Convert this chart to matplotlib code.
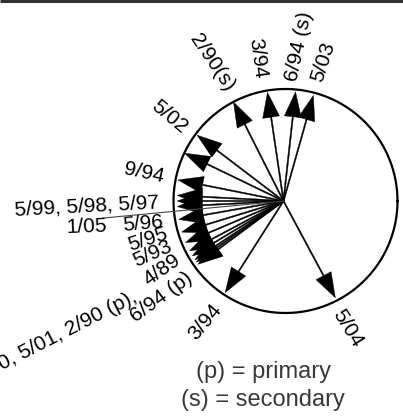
import numpy as np
import matplotlib
matplotlib.use("Agg")
import matplotlib.pyplot as plt

# ---- data: arrow directions (degrees, counter-clockwise from east) ----
arrow_dates = ["2/90(s)", "3/94", "6/94(s)", "5/03", "5/02", "?", "9/94",
               "5/99", "5/98", "5/97", "5/96", "5/95", "5/93", "4/89",
               "6/94(p)", "5/00", "5/01", "2/90(p)", "3/94b", "5/04"]
arrow_angles = [116.8, 98.4, 83.7, 74.2, 142.7, 154.2, 168.7,
                177.0, 180.0, 183.0, 190.0, 197.0, 203.0, 208.0,
                211.0, 213.5, 215.0, 216.5, 237.5, 298.2]
arrow_lengths = [0.99, 0.98, 0.98, 0.98, 0.97, 0.98, 0.96,
                 0.95, 0.95, 0.95, 0.95, 0.95, 0.95, 0.95,
                 0.95, 0.95, 0.95, 0.95, 0.97, 0.98]
thin_line_angle = 185.4
thin_line_length = 1.62

label_texts = ["2/90(s)", "3/94", "6/94 (s)", "5/03", "5/02", "9/94",
               "5/99, 5/98, 5/97", "1/05", "5/96", "5/95", "5/93",
               "5/00, 5/01, 2/90 (p),", "4/89", "6/94 (p)", "3/94", "5/04"]
legend_texts = ["(p) = primary", "(s) = secondary"]

# ---- layout (pixel space) ----
W, H = 403, 420
cx, cy, R = 285.5, 201.0, 112.0
ox, oy = 283.5, 201.0
label_pos = [(212, 63), (258, 58), (299, 46), (323, 62), (169, 117), (144, 173),
             (87, 206), (87, 227), (143, 224), (148, 239), (152, 254),
             (55, 337), (162, 270), (161, 297), (205, 322), (348, 328)]
label_rot = [-56, -82, 78, 72, -40, -12, 3, 2, 5, 18, 24, 27, 35, 36, 50, -58]

fig = plt.figure(figsize=(W / 100, H / 100), dpi=100)
ax = fig.add_axes([0, 0, 1, 1])
ax.set_xlim(0, W)
ax.set_ylim(H, 0)
ax.axis("off")

# top border line
ax.plot([0, W], [1, 1], color="#333333", lw=2.2, solid_capstyle="butt")

# circle
th = np.linspace(0, 2 * np.pi, 400)
ax.plot(cx + R * np.cos(th), cy + R * np.sin(th), color="black", lw=1.6)

# thin line (1/05)
a = np.deg2rad(thin_line_angle)
ax.plot([ox, ox + thin_line_length * R * np.cos(a)],
        [oy, oy - thin_line_length * R * np.sin(a)], color="#444444", lw=0.8)

# arrows
for ang, ln in zip(arrow_angles, arrow_lengths):
    a = np.deg2rad(ang)
    dx = ln * R * np.cos(a)
    dy = -ln * R * np.sin(a)
    ax.arrow(ox, oy, dx, dy, width=1.3, head_width=17, head_length=25,
             length_includes_head=True, fc="black", ec="black", lw=0.3)

fam = ["Liberation Sans", "DejaVu Sans"]
for t, (x, y), r in zip(label_texts, label_pos, label_rot):
    ax.text(x, y, t, rotation=r, ha="center", va="center", fontsize=15,
            family=fam, color="black")

ax.text(263, 372, legend_texts[0], ha="center", va="center", fontsize=17,
        family=fam, color="#383838")
ax.text(263, 400, legend_texts[1], ha="center", va="center", fontsize=17,
        family=fam, color="#383838")

fig.savefig("out.png", dpi=100)
